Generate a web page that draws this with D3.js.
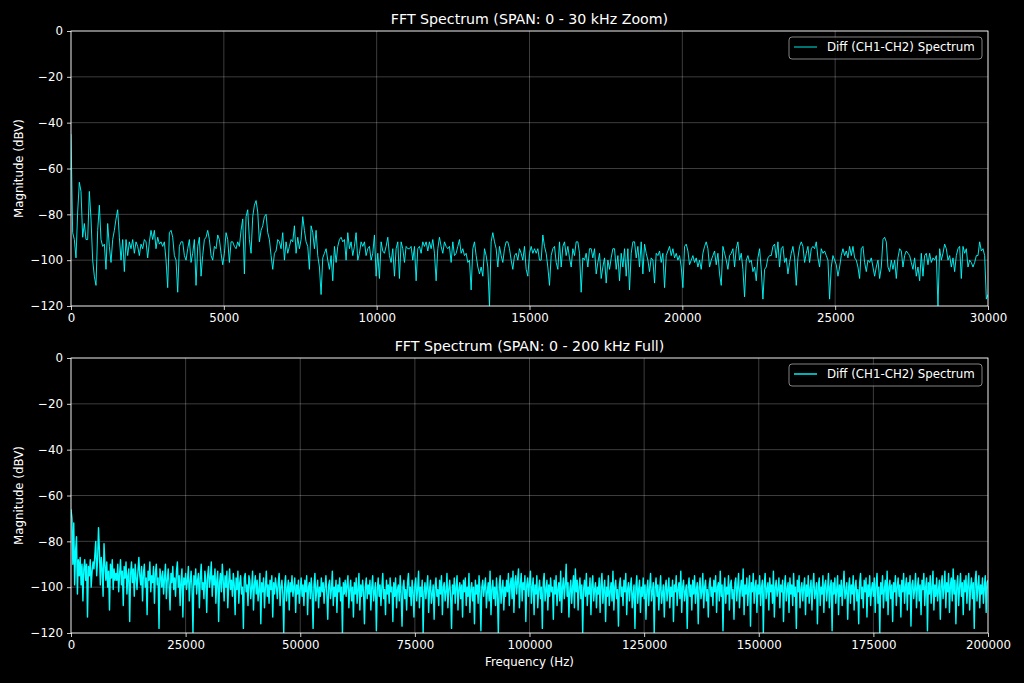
<!DOCTYPE html>
<html>
<head>
<meta charset="utf-8">
<script src="https://cdn.jsdelivr.net/npm/d3@7"></script>
<style>
    html, body { margin: 0; padding: 0; background: #000; }
    svg { display: block; }
</style>
</head>
<body>
<svg id="chart"></svg>
<script>
// 0 - 30 kHz 放大图 (dBV)
const zoomMagnitude = [
    -45, -88, -91, -99, -79, -66, -70, -90, -84, -91,
    -91, -70, -82, -100, -107, -111, -87, -76, -91, -94,
    -93, -104, -84, -94, -101, -91, -87, -82, -78, -90,
    -100, -91, -105, -91, -98, -92, -95, -91, -97, -92,
    -94, -98, -93, -95, -91, -92, -99, -92, -87, -91,
    -87, -95, -90, -93, -92, -94, -92, -100, -112, -88,
    -87, -90, -98, -100, -114, -94, -92, -92, -98, -100,
    -95, -91, -101, -97, -91, -111, -94, -90, -107, -98,
    -91, -90, -87, -91, -98, -100, -94, -95, -89, -91,
    -97, -102, -97, -88, -91, -101, -92, -92, -94, -95,
    -92, -94, -87, -82, -106, -81, -78, -91, -97, -81,
    -76, -74, -79, -92, -87, -85, -81, -80, -88, -91,
    -98, -104, -97, -96, -91, -92, -95, -88, -100, -92,
    -97, -94, -91, -92, -85, -97, -90, -95, -91, -81,
    -87, -92, -94, -104, -85, -88, -95, -87, -98, -103,
    -115, -99, -97, -95, -100, -104, -98, -109, -94, -101,
    -94, -91, -90, -92, -91, -100, -88, -95, -92, -98,
    -94, -88, -100, -97, -92, -94, -92, -98, -95, -94,
    -100, -97, -89, -107, -97, -108, -92, -96, -97, -94,
    -90, -98, -101, -95, -107, -95, -92, -108, -92, -95,
    -101, -94, -95, -95, -94, -100, -94, -109, -95, -94,
    -97, -92, -94, -92, -96, -92, -95, -91, -97, -109,
    -95, -90, -94, -97, -92, -94, -95, -94, -101, -92,
    -98, -97, -94, -91, -97, -95, -98, -97, -101, -100,
    -113, -95, -92, -98, -103, -106, -103, -107, -95, -98,
    -103, -120, -92, -88, -92, -95, -103, -94, -98, -101,
    -95, -92, -92, -95, -100, -104, -98, -97, -100, -95,
    -97, -100, -94, -104, -107, -97, -94, -97, -95, -97,
    -95, -100, -100, -89, -94, -97, -103, -111, -98, -95,
    -94, -101, -104, -92, -103, -94, -92, -98, -94, -99,
    -103, -95, -98, -92, -92, -97, -114, -99, -100, -97,
    -103, -95, -95, -99, -95, -106, -101, -97, -108, -103,
    -99, -110, -100, -104, -99, -95, -95, -104, -98, -109,
    -97, -103, -95, -107, -95, -113, -97, -92, -92, -99,
    -94, -103, -92, -106, -93, -97, -100, -105, -99, -100,
    -110, -97, -98, -96, -101, -97, -112, -98, -96, -94,
    -98, -95, -99, -97, -100, -98, -103, -112, -94, -93,
    -96, -102, -100, -98, -101, -99, -103, -100, -104, -97,
    -94, -92, -95, -103, -100, -98, -96, -102, -97, -106,
    -111, -94, -97, -100, -104, -98, -97, -95, -103, -95,
    -92, -100, -97, -104, -116, -100, -98, -101, -100, -105,
    -103, -109, -99, -95, -104, -117, -104, -103, -99, -98,
    -98, -94, -93, -99, -92, -103, -95, -94, -101, -99,
    -106, -101, -97, -94, -99, -111, -99, -94, -92, -94,
    -101, -97, -94, -101, -95, -94, -95, -92, -99, -103,
    -95, -97, -96, -98, -100, -117, -103, -98, -100, -102,
    -107, -103, -98, -95, -98, -96, -99, -94, -98, -94,
    -99, -100, -103, -108, -95, -94, -101, -105, -100, -101,
    -99, -103, -107, -103, -100, -108, -103, -91, -90, -92,
    -103, -105, -100, -104, -100, -108, -99, -95, -96, -103,
    -98, -96, -97, -98, -101, -104, -99, -107, -103, -109,
    -97, -107, -98, -97, -102, -97, -101, -99, -100, -98,
    -120, -95, -100, -97, -93, -95, -100, -98, -103, -99,
    -105, -98, -95, -94, -108, -94, -97, -95, -103, -100,
    -101, -103, -101, -98, -98, -92, -96, -95, -98, -117,
    -115
];

// 0 - 200 kHz 全频段 (dBV)，每 5 kHz 一行
const fullMagnitude = [
    -66, -70, -90, -72, -99, -84, -78, -103, -88, -95, -87, -99, -90, -106, -92, -88, -97, -90, -113, -91, -95, -88, -100, -93, -89,
    -92, -86, -80, -95, -88, -74, -84, -99, -87, -92, -104, -81, -90, -97, -89, -100, -93, -110, -90, -96, -88, -101, -92, -97, -94,
    -97, -90, -102, -94, -88, -99, -93, -108, -91, -96, -89, -103, -95, -92, -115, -94, -89, -98, -92, -104, -90, -96, -101, -93, -87,
    -95, -99, -91, -106, -94, -90, -100, -96, -112, -93, -97, -89, -102, -95, -98, -91, -107, -94, -90, -99, -96, -118, -92, -95, -100,
    -93, -103, -96, -90, -105, -97, -92, -99, -110, -94, -98, -91, -101, -96, -104, -93, -89, -100, -95, -108, -97, -92, -113, -96, -99,
    -94, -101, -97, -91, -106, -98, -93, -100, -120, -95, -99, -92, -103, -97, -94, -109, -96, -90, -101, -98, -105, -93, -97, -111, -95,
    -91, -100, -96, -89, -104, -95, -99, -92, -107, -97, -93, -115, -98, -94, -102, -90, -97, -106, -95, -100, -93, -109, -98, -92, -101,
    -97, -104, -94, -99, -112, -96, -101, -93, -107, -98, -95, -103, -100, -118, -96, -94, -102, -99, -108, -95, -97, -105, -100, -93, -110,
    -99, -95, -103, -97, -106, -101, -94, -116, -98, -102, -96, -109, -100, -93, -104, -99, -107, -97, -101, -95, -113, -98, -103, -96, -100,
    -105, -98, -94, -108, -100, -97, -103, -120, -99, -95, -106, -101, -97, -110, -98, -102, -95, -104, -100, -96, -111, -99, -103, -97, -107,
    -101, -96, -104, -99, -108, -97, -102, -95, -112, -100, -98, -105, -96, -103, -118, -99, -94, -106, -101, -97, -109, -100, -104, -96, -102,
    -98, -107, -100, -95, -103, -114, -99, -97, -105, -101, -93, -108, -100, -104, -97, -111, -99, -102, -96, -106, -100, -120, -98, -103, -97,
    -104, -99, -95, -109, -101, -97, -106, -100, -113, -98, -103, -96, -107, -101, -94, -110, -99, -104, -97, -102, -116, -100, -96, -105, -99,
    -103, -97, -110, -100, -95, -106, -102, -98, -119, -101, -96, -104, -99, -108, -100, -94, -105, -101, -112, -97, -103, -99, -107, -96, -102,
    -100, -115, -98, -104, -96, -109, -101, -99, -106, -95, -103, -117, -100, -97, -105, -101, -110, -98, -94, -104, -100, -108, -97, -102, -113,
    -99, -96, -106, -101, -93, -109, -100, -104, -97, -120, -102, -98, -105, -100, -95, -111, -101, -97, -107, -103, -99, -114, -100, -96, -104,
    -101, -108, -97, -103, -95, -112, -100, -98, -106, -102, -94, -109, -101, -97, -104, -118, -99, -103, -96, -107, -100, -95, -110, -101, -98,
    -105, -99, -113, -97, -102, -96, -108, -100, -104, -94, -111, -101, -98, -106, -100, -116, -97, -103, -99, -107, -95, -102, -119, -100, -97,
    -104, -100, -96, -109, -102, -98, -106, -93, -112, -101, -97, -105, -100, -108, -96, -103, -120, -99, -95, -107, -101, -97, -110, -100, -104,
    -97, -102, -94, -108, -99, -96, -105, -93, -111, -98, -95, -103, -97, -92, -109, -99, -94, -106, -98, -101, -95, -115, -99, -96, -104,
    -98, -93, -107, -100, -96, -112, -99, -103, -95, -109, -101, -97, -105, -100, -118, -98, -94, -106, -101, -97, -110, -99, -104, -96, -102,
    -100, -114, -97, -103, -95, -108, -101, -98, -106, -93, -111, -100, -96, -105, -99, -90, -104, -98, -113, -101, -97, -107, -100, -95, -109,
    -92, -102, -97, -110, -100, -96, -105, -99, -120, -101, -97, -104, -94, -108, -100, -103, -96, -112, -99, -95, -106, -101, -98, -109, -100,
    -103, -96, -111, -99, -94, -107, -101, -97, -115, -100, -104, -95, -108, -102, -98, -106, -93, -110, -100, -97, -105, -101, -117, -99, -96,
    -104, -100, -108, -97, -102, -94, -112, -101, -98, -106, -100, -96, -109, -103, -99, -118, -100, -95, -107, -101, -97, -111, -100, -104, -96,
    -105, -99, -114, -101, -97, -108, -100, -94, -106, -102, -98, -120, -100, -96, -104, -99, -110, -101, -95, -107, -103, -99, -113, -100, -97,
    -106, -101, -96, -109, -100, -104, -97, -115, -99, -102, -95, -108, -101, -98, -105, -93, -111, -100, -97, -106, -102, -99, -118, -100, -96,
    -104, -99, -110, -97, -103, -95, -107, -101, -98, -116, -100, -96, -105, -102, -94, -109, -100, -97, -106, -101, -113, -99, -96, -104, -100,
    -108, -97, -102, -95, -111, -100, -98, -106, -93, -104, -99, -119, -101, -96, -107, -100, -103, -95, -110, -99, -97, -105, -101, -114, -98,
    -96, -106, -100, -94, -109, -101, -97, -104, -92, -112, -99, -103, -96, -108, -100, -95, -117, -98, -102, -94, -107, -100, -97, -111, -99,
    -103, -95, -108, -100, -97, -120, -99, -94, -105, -101, -98, -110, -96, -102, -99, -107, -93, -113, -100, -97, -104, -101, -96, -109, -99,
    -102, -97, -115, -100, -95, -106, -101, -98, -111, -96, -103, -99, -108, -94, -104, -100, -118, -97, -102, -95, -109, -101, -98, -106, -100,
    -96, -112, -99, -104, -95, -107, -101, -97, -110, -100, -94, -105, -102, -98, -116, -99, -96, -108, -100, -103, -95, -111, -99, -97, -106,
    -101, -94, -109, -100, -97, -119, -98, -103, -96, -107, -101, -95, -112, -99, -104, -97, -108, -100, -93, -105, -102, -98, -114, -100, -96,
    -107, -99, -103, -95, -110, -100, -97, -106, -101, -116, -98, -94, -105, -100, -109, -97, -102, -96, -113, -99, -104, -95, -108, -101, -98,
    -104, -96, -111, -99, -94, -107, -100, -120, -98, -103, -95, -109, -101, -97, -106, -93, -112, -100, -97, -105, -99, -115, -98, -102, -95,
    -108, -100, -96, -104, -99, -113, -97, -102, -94, -107, -100, -96, -110, -98, -103, -95, -117, -99, -97, -105, -101, -94, -109, -100, -96,
    -106, -99, -112, -97, -101, -94, -108, -100, -96, -119, -98, -103, -95, -107, -100, -93, -110, -99, -104, -96, -106, -101, -97, -114, -99,
    -95, -105, -100, -93, -109, -98, -102, -94, -111, -99, -96, -106, -92, -103, -97, -116, -99, -95, -108, -100, -94, -104, -98, -112, -97,
    -102, -95, -107, -99, -94, -110, -100, -96, -105, -98, -118, -97, -93, -106, -100, -95, -109, -99, -103, -96, -107, -100, -95, -111, -98,
    -97
];

const spanHz = [30000, 200000];
const yTicks = [0, -20, -40, -60, -80, -100, -120];
const zoomXTicks = [0, 5000, 10000, 15000, 20000, 25000, 30000];
const fullXTicks = [0, 25000, 50000, 75000, 100000, 125000, 150000, 175000, 200000];
const panelTitles = ["FFT Spectrum (SPAN: 0 - 30 kHz Zoom)", "FFT Spectrum (SPAN: 0 - 200 kHz Full)"];
const legendLabel = "Diff (CH1-CH2) Spectrum";
const yLabel = "Magnitude (dBV)";
const xLabel = "Frequency (Hz)";

const W = 1024, H = 683;
const AXES_LEFT = 71, AXES_RIGHT = 988, AXES_HEIGHT = 275;
const PANEL_TOPS = [31, 358];
const LINE_COLOR = "#00ffff";
const LINE_WIDTHS = [0.9, 1.4];
const GRID_COLOR = "#ffffff";
const FONT = "DejaVu Sans, sans-serif";
const TICK_FONT_SIZE = "11.8px";
const TITLE_FONT_SIZE = "14.2px";

let svg = d3.select("#chart")
    .attr("width", W)
    .attr("height", H)
    .attr("font-family", FONT);

svg.append("rect")
    .attr("width", W)
    .attr("height", H)
    .attr("fill", "#000");

let defs = svg.append("defs");

function drawPanel(k, values, xTicks) {
    let top = PANEL_TOPS[k];
    let bottom = top + AXES_HEIGHT;
    let x = d3.scaleLinear().domain([0, spanHz[k]]).range([AXES_LEFT, AXES_RIGHT]);
    let y = d3.scaleLinear().domain([-120, 0]).range([bottom, top]);
    let step = spanHz[k] / (values.length - 1);
    let g = svg.append("g");

    //网格
    g.append("g").selectAll("line")
        .data(xTicks)
        .join("line")
        .attr("x1", d => x(d)).attr("x2", d => x(d))
        .attr("y1", top).attr("y2", bottom)
        .attr("stroke", GRID_COLOR)
        .attr("stroke-opacity", 0.3)
        .attr("stroke-width", 0.8);
    g.append("g").selectAll("line")
        .data(yTicks)
        .join("line")
        .attr("x1", AXES_LEFT).attr("x2", AXES_RIGHT)
        .attr("y1", d => y(d)).attr("y2", d => y(d))
        .attr("stroke", GRID_COLOR)
        .attr("stroke-opacity", 0.3)
        .attr("stroke-width", 0.8);

    //频谱曲线
    defs.append("clipPath")
        .attr("id", `clip${k}`)
        .append("rect")
        .attr("x", AXES_LEFT).attr("y", top)
        .attr("width", AXES_RIGHT - AXES_LEFT)
        .attr("height", AXES_HEIGHT);

    let line = d3.line()
        .x((d, i) => x(i * step))
        .y(d => y(d));

    g.append("path")
        .datum(values)
        .attr("clip-path", `url(#clip${k})`)
        .attr("d", line)
        .attr("fill", "none")
        .attr("stroke", LINE_COLOR)
        .attr("stroke-width", LINE_WIDTHS[k])
        .attr("stroke-linejoin", "round");

    //坐标轴
    let xAxis = d3.axisBottom(x)
        .tickValues(xTicks)
        .tickFormat(d3.format("d"))
        .tickSize(4)
        .tickPadding(4);
    let yAxis = d3.axisLeft(y)
        .tickValues(yTicks)
        .tickFormat(d3.format("d"))
        .tickSize(4)
        .tickPadding(4);

    let gx = g.append("g")
        .attr("transform", `translate(0,${bottom})`)
        .call(xAxis);
    let gy = g.append("g")
        .attr("transform", `translate(${AXES_LEFT},0)`)
        .call(yAxis);

    [gx, gy].forEach(a => {
        a.attr("font-family", FONT).attr("font-size", TICK_FONT_SIZE);
        a.select(".domain").remove();
        a.selectAll(".tick line").attr("stroke", "#fff").attr("stroke-width", 0.8);
        a.selectAll(".tick text").attr("fill", "#fff");
    });

    //边框
    g.append("rect")
        .attr("x", AXES_LEFT).attr("y", top)
        .attr("width", AXES_RIGHT - AXES_LEFT)
        .attr("height", AXES_HEIGHT)
        .attr("fill", "none")
        .attr("stroke", "#fff")
        .attr("stroke-width", 0.8);

    //标题
    g.append("text")
        .attr("x", (AXES_LEFT + AXES_RIGHT) / 2)
        .attr("y", top - 7)
        .attr("text-anchor", "middle")
        .attr("font-size", TITLE_FONT_SIZE)
        .attr("fill", "#fff")
        .text(panelTitles[k]);

    //y 轴标签
    g.append("text")
        .attr("transform", `translate(18.5,${(top + bottom) / 2}) rotate(-90)`)
        .attr("dy", "0.35em")
        .attr("text-anchor", "middle")
        .attr("font-size", TICK_FONT_SIZE)
        .attr("fill", "#fff")
        .text(yLabel);

    //图例
    let legend = g.append("g")
        .attr("transform", `translate(${AXES_RIGHT - 199},${top + 6})`);
    legend.append("rect")
        .attr("width", 193)
        .attr("height", 22)
        .attr("rx", 3)
        .attr("fill", "#000")
        .attr("fill-opacity", 0.8)
        .attr("stroke", "#ccc")
        .attr("stroke-opacity", 0.8)
        .attr("stroke-width", 0.8);
    legend.append("line")
        .attr("x1", 5).attr("x2", 28)
        .attr("y1", 10).attr("y2", 10)
        .attr("stroke", LINE_COLOR)
        .attr("stroke-width", LINE_WIDTHS[k]);
    legend.append("text")
        .attr("x", 38)
        .attr("y", 10)
        .attr("dy", "0.35em")
        .attr("font-size", TICK_FONT_SIZE)
        .attr("fill", "#fff")
        .text(legendLabel);

    return g;
}

drawPanel(0, zoomMagnitude, zoomXTicks);
let fullPanel = drawPanel(1, fullMagnitude, fullXTicks);

//x 轴标签 (只在下图)
fullPanel.append("text")
    .attr("x", (AXES_LEFT + AXES_RIGHT) / 2)
    .attr("y", 662)
    .attr("dy", "0.35em")
    .attr("text-anchor", "middle")
    .attr("font-size", TICK_FONT_SIZE)
    .attr("fill", "#fff")
    .text(xLabel);
</script>
</body>
</html>
